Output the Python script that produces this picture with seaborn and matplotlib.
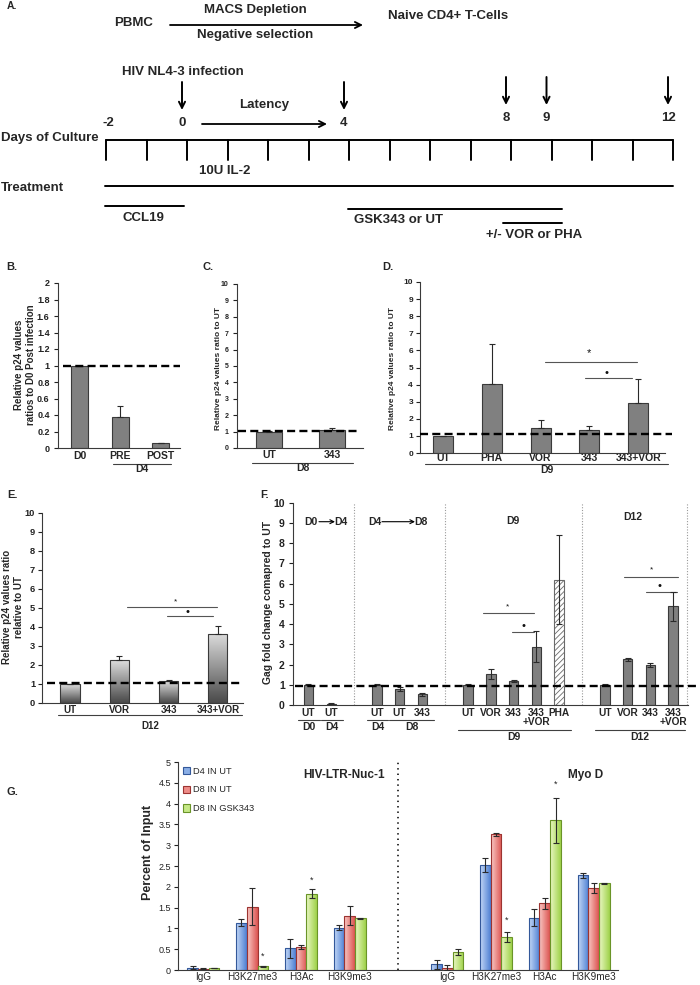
import numpy as np
import pandas as pd
import matplotlib
matplotlib.use("Agg")
import matplotlib.pyplot as plt
import seaborn as sns
from matplotlib import font_manager
from matplotlib.colors import LinearSegmentedColormap
from matplotlib.patches import Patch

# ---------------- data ----------------
timeline_days = list(range(-2, 13))
arrow_days = [0, 4, 8, 9, 12]
ccl19_span = [-2, 0]
gsk_span = [4, 9.25]
vor_span = [7.8, 9.25]

b_cats = ["D0", "PRE", "POST"]
b_vals = [1.0, 0.38, 0.055]
b_errs = [0.0, 0.135, 0.008]

c_cats = ["UT", "343"]
c_vals = [1.0, 1.08]
c_errs = [0.02, 0.12]

d_cats = ["UT", "PHA", "VOR", "343", "343+VOR"]
d_vals = [1.0, 4.05, 1.47, 1.32, 2.93]
d_errs = [0.02, 2.3, 0.45, 0.28, 1.37]

e_cats = ["UT", "VOR", "343", "343+VOR"]
e_vals = [0.97, 2.24, 1.12, 3.64]
e_errs = [0.0, 0.2, 0.1, 0.4]

f_sections = ["D0\u2192D4", "D4\u2192D8", "D9", "D12"]
f_section_of = [0, 0, 1, 1, 1, 2, 2, 2, 2, 2, 3, 3, 3, 3]
f_days = ["D0", "D4", "D4", "D8", "D8", "D9", "D9", "D9", "D9", "D9",
          "D12", "D12", "D12", "D12"]
f_labels = ["UT", "UT", "UT", "UT", "343", "UT", "VOR", "343", "343\n+VOR", "PHA",
            "UT", "VOR", "343", "343\n+VOR"]
f_vals = [1.0, 0.06, 1.0, 0.78, 0.53, 1.0, 1.52, 1.19, 2.89, 6.19, 1.0, 2.25, 1.98, 4.88]
f_errs = [0.02, 0.02, 0.02, 0.09, 0.08, 0.02, 0.24, 0.07, 0.78, 2.2, 0.02, 0.07, 0.08, 0.72]

g_marks = ["IgG", "H3K27me3", "H3Ac", "H3K9me3"]
g_loci = ["HIV-LTR-Nuc-1", "Myo D"]
g_series = ["D4 IN UT", "D8 IN UT", "D8 IN GSK343"]
g_hiv_d4 = [0.06, 1.14, 0.52, 1.02]
g_hiv_d8 = [0.03, 1.52, 0.55, 1.31]
g_hiv_gsk = [0.05, 0.09, 1.83, 1.24]
g_myod_d4 = [0.14, 2.52, 1.26, 2.28]
g_myod_d8 = [0.06, 3.26, 1.60, 1.98]
g_myod_gsk = [0.44, 0.79, 3.60, 2.08]
g_hiv_d4_err = [0.03, 0.09, 0.23, 0.06]
g_hiv_d8_err = [0.01, 0.44, 0.05, 0.24]
g_hiv_gsk_err = [0.01, 0.01, 0.11, 0.01]
g_myod_d4_err = [0.11, 0.17, 0.20, 0.06]
g_myod_d8_err = [0.05, 0.03, 0.13, 0.12]
g_myod_gsk_err = [0.07, 0.12, 0.54, 0.01]

# ---------------- fonts ----------------
sns.set_style("white")
names = {f.name for f in font_manager.fontManager.ttflist}
REG = "Liberation Sans" if "Liberation Sans" in names else "DejaVu Sans"
NAR = "Liberation Sans Narrow" if "Liberation Sans Narrow" in names else REG
plt.rcParams["font.family"] = [REG, "DejaVu Sans"]
plt.rcParams["hatch.linewidth"] = 0.6

W, H = 700, 985
fig = plt.figure(figsize=(7, 9.85), dpi=100)
fig.patch.set_facecolor("white")


def mk(x0, x1, yt, yb):
    ax = fig.add_axes([x0 / W, 1 - yb / H, (x1 - x0) / W, (yb - yt) / H])
    ax.patch.set_alpha(0)
    return ax


def xs_px(ax, x):
    return ax.transData.transform((x, 0))[0]


def ys_px(ax, y):
    return H - ax.transData.transform((0, y))[1]


def style(ax, xlim, ylim, yticks, tsize, pad, family=REG, weight="bold"):
    ax.set_xlim(*xlim)
    ax.set_ylim(*ylim)
    ax.set_yticks(yticks)
    ax.set_yticklabels([f"{v:g}" for v in yticks], fontsize=tsize,
                       fontweight=weight, family=[family, "DejaVu Sans"])
    for s in ["top", "right"]:
        ax.spines[s].set_visible(False)
    for s in ["left", "bottom"]:
        ax.spines[s].set_color("#3a3a3a")
        ax.spines[s].set_linewidth(0.8)
    ax.tick_params(axis="y", length=3, width=0.8, direction="out", pad=pad,
                   colors="#222222", left=True)
    ax.tick_params(axis="x", length=0)
    ax.set_xlabel("")
    ax.set_ylabel("")


def simple_bars(ax, cats, vals, width, order=None):
    df = pd.DataFrame({"cat": cats, "val": vals})
    sns.barplot(data=df, x="cat", y="val", order=order if order else cats,
                color="#808080", saturation=1, edgecolor="#3a3a3a",
                linewidth=0.8, width=width, errorbar=None, ax=ax)


def errs(ax, xs, vals, e, up_only=True, capsize=2.5):
    e = np.asarray(e, dtype=float)
    yerr = [np.zeros_like(e), e] if up_only else e
    ax.errorbar(xs, vals, yerr=yerr, fmt="none", ecolor="#2a2a2a",
                elinewidth=0.8, capsize=capsize, capthick=0.8, zorder=5)


def dashed(ax, x0, x1, y):
    ax.plot([x0, x1], [y, y], color="black", lw=1.7, dashes=(3.4, 1.8),
            clip_on=False, zorder=6)


def grad_fill(ax, patch, c0, c1, vertical=True):
    x0, y0 = patch.get_x(), patch.get_y()
    w, h = patch.get_width(), patch.get_height()
    cmap = LinearSegmentedColormap.from_list("g", [c0, c1])
    arr = np.linspace(0, 1, 64).reshape(-1, 1) if vertical else np.linspace(0, 1, 64).reshape(1, -1)
    im = ax.imshow(arr, cmap=cmap, extent=(x0, x0 + w, y0, y0 + h), origin="lower",
                   aspect="auto", interpolation="bilinear", zorder=1)
    im.set_clip_path(patch)
    patch.set_facecolor("none")
    patch.set_zorder(2)


def sig(ax, x0, x1, y, sym, tx, ty, size):
    ax.plot([x0, x1], [y, y], color="#555555", lw=0.8, zorder=4)
    ax.text(tx, ty, sym, ha="center", va="center", fontsize=size, color="#111111")


brackets = []  # (ax, x0, x1, line_px, label, label_px, size, family)
ylabels = []   # (text, x_px, y_px, size, family)

# ---------------- Panel B ----------------
axB = mk(58, 180, 283, 448)
simple_bars(axB, b_cats, b_vals, 0.42)
errs(axB, range(3), b_vals, b_errs)
style(axB, (-0.53, 2.48), (0, 2), np.round(np.arange(0, 2.01, 0.2), 1), 6.5, 3)
axB.set_xticks(range(3))
axB.set_xticklabels(b_cats, fontsize=7.5, fontweight="bold")
axB.tick_params(axis="x", pad=2)
dashed(axB, -0.41, 2.48, 1.0)
brackets.append((axB, 0.83, 2.26, 16, "D4", 21.5, 7.5, REG))
ylabels.append(("Relative p24 values\nratios to D0 Post infection", 25, 365, 7, REG))

# ---------------- Panel C ----------------
axC = mk(237, 363, 284, 448)
simple_bars(axC, c_cats, c_vals, 0.41)
errs(axC, range(2), c_vals, c_errs)
style(axC, (-0.51, 1.49), (0, 10), list(range(0, 11)), 5, 3)
axC.set_xticks(range(2))
axC.set_xticklabels(c_cats, fontsize=7.5, fontweight="bold")
axC.tick_params(axis="x", pad=1.5)
dashed(axC, -0.5, 1.45, 1.05)
brackets.append((axC, -0.27, 1.33, 15, "D8", 20, 7.5, REG))
ylabels.append(("Relative p24 values ratio to UT", 218, 368, 6, REG))

# ---------------- Panel D ----------------
axD = mk(420, 665, 282, 453)
simple_bars(axD, d_cats, d_vals, 0.41)
errs(axD, range(5), d_vals, d_errs)
style(axD, (-0.47, 4.55), (0, 10), list(range(0, 11)), 6, 2)
axD.set_xticks(range(5))
axD.set_xticklabels(d_cats, fontsize=7.5, fontweight="bold")
axD.tick_params(axis="x", pad=0)
dashed(axD, -0.47, 4.7, 1.1)
sig(axD, 2.09, 3.98, 5.3, "*", 3.0, 5.85, 8)
sig(axD, 2.91, 3.88, 4.4, "\u2022", 3.36, 4.7, 8)
brackets.append((axD, -0.37, 4.62, 11, "D9", 17, 7.5, REG))
ylabels.append(("Relative p24 values ratio to UT", 392, 368, 6, REG))

# ---------------- Panel E ----------------
axE = mk(42, 243, 512.7, 702.7)
simple_bars(axE, e_cats, e_vals, 0.39)
for p in list(axE.patches):
    grad_fill(axE, p, "#4a4a4a", "#dcdcdc", vertical=True)
errs(axE, range(4), e_vals, e_errs)
style(axE, (-0.57, 3.51), (0, 10), list(range(0, 11)), 6.7, 2)
axE.set_xticks(range(4))
axE.set_xticklabels(e_cats, fontsize=7, fontweight="bold")
axE.tick_params(axis="x", pad=2)
dashed(axE, -0.47, 3.5, 1.05)
sig(axE, 1.16, 2.98, 5.05, "*", 2.13, 5.3, 6)
sig(axE, 1.97, 2.9, 4.56, "\u2022", 2.39, 4.75, 8)
brackets.append((axE, -0.24, 3.49, 12.5, "D12", 23, 7, REG))
ylabels.append(("Relative p24 values ratio\nrelative to UT", 13, 607, 7, REG))

# ---------------- Panel F ----------------
axF = mk(293, 688, 502.7, 705)
f_keys = [f"k{i}" for i in range(len(f_vals))]
f_order = []
for s in range(len(f_sections)):
    if s > 0:
        f_order.append(f"gap{s}")
    f_order += [k for k, sec in zip(f_keys, f_section_of) if sec == s]
f_pos = [f_order.index(k) for k in f_keys]
simple_bars(axF, f_keys, f_vals, 0.42, order=f_order)
pha_pos = f_pos[f_labels.index("PHA")]
for p in axF.patches:
    cx = p.get_x() + p.get_width() / 2
    if abs(cx - pha_pos) < 0.3:
        p.set_facecolor("white")
        p.set_hatch("//////")
        p.set_edgecolor("#6a6a6a")
errs(axF, f_pos, f_vals, f_errs, up_only=False, capsize=2.5)
style(axF, (-0.68, 16.65), (0, 10), list(range(0, 11)), 7.5, 3, family=NAR)
axF.set_xticks(f_pos)
axF.set_xticklabels(f_labels, fontsize=7.3, fontweight="bold",
                    family=[NAR, "DejaVu Sans"], linespacing=0.95)
axF.tick_params(axis="x", pad=2)
dashed(axF, -0.6, 17.6, 0.95)
gap_pos = [f_order.index(f"gap{s}") for s in range(1, len(f_sections))]
for gx in gap_pos + [len(f_order) - 0.4]:
    axF.plot([gx, gx], [0, 10], color="#9a9a9a", lw=0.8, ls=(0, (1, 1.5)), zorder=0,
             clip_on=False)
sig(axF, 7.64, 9.89, 4.54, "*", 8.74, 4.87, 6)
sig(axF, 8.92, 9.88, 3.63, "\u2022", 9.42, 3.9, 8)
sig(axF, 13.84, 16.19, 6.35, "*", 15.04, 6.7, 6)
sig(axF, 14.79, 16.18, 5.57, "\u2022", 15.41, 5.88, 8)
day_groups = []
for i, (d, s) in enumerate(zip(f_days, f_section_of)):
    if day_groups and day_groups[-1][0] == d and day_groups[-1][1] == s:
        day_groups[-1][3] = f_pos[i]
    else:
        day_groups.append([d, s, f_pos[i], f_pos[i]])
for d, s, a, b in day_groups:
    two_line = s >= 2
    brackets.append((axF, a - 0.45, b + 0.5, 24.5 if two_line else 15, d,
                     32 if two_line else 22.5, 7.5, NAR))
ylabels.append(("Gag fold change comapred to UT", 268, 602, 7.5, NAR))

# ---------------- Panel G ----------------
axG = mk(178, 618, 762, 970)
g_vals_by = {("HIV", 0): g_hiv_d4, ("HIV", 1): g_hiv_d8, ("HIV", 2): g_hiv_gsk,
             ("MYO", 0): g_myod_d4, ("MYO", 1): g_myod_d8, ("MYO", 2): g_myod_gsk}
g_err_by = {("HIV", 0): g_hiv_d4_err, ("HIV", 1): g_hiv_d8_err, ("HIV", 2): g_hiv_gsk_err,
            ("MYO", 0): g_myod_d4_err, ("MYO", 1): g_myod_d8_err, ("MYO", 2): g_myod_gsk_err}
rows = []
for loc in ["HIV", "MYO"]:
    for si, ser in enumerate(g_series):
        for mi, m in enumerate(g_marks):
            rows.append({"key": f"{loc}|{m}", "series": ser,
                         "val": g_vals_by[(loc, si)][mi], "err": g_err_by[(loc, si)][mi]})
gdf = pd.DataFrame(rows)
g_order = [f"HIV|{m}" for m in g_marks] + ["gap"] + [f"MYO|{m}" for m in g_marks]
g_light = ["#c4d8f6", "#f9c9c6", "#eaf8c4"]
g_dark = ["#4d7fd3", "#dc5450", "#9fd24a"]
g_edge = ["#33589a", "#9c3431", "#6a9428"]
g_mid = ["#8aaee6", "#ee8c88", "#c6e887"]
sns.barplot(data=gdf, x="key", y="val", hue="series", order=g_order, hue_order=g_series,
            palette=g_mid, saturation=1, width=0.66, errorbar=None, legend=False,
            edgecolor="#333333", linewidth=0.8, ax=axG)
hue_w = 0.22
for p in list(axG.patches):
    if p.get_height() <= 0:
        continue
    cx = p.get_x() + p.get_width() / 2
    slot = round(cx)
    si = int(round((cx - slot) / hue_w)) + 1
    p.set_edgecolor(g_edge[si])
    grad_fill(axG, p, g_light[si], g_dark[si], vertical=False)
for si in range(3):
    sub = gdf[gdf["series"] == g_series[si]]
    xs = [g_order.index(k) + (si - 1) * hue_w for k in sub["key"]]
    errs(axG, xs, sub["val"].values, sub["err"].values, up_only=False, capsize=2.2)
style(axG, (-0.52, 8.5), (0, 5), list(np.arange(0, 5.01, 0.5)), 6.5, 2, weight="normal")
axG.set_xticks([g_order.index(k) for k in g_order if k != "gap"])
axG.set_xticklabels(g_marks + g_marks, fontsize=7.2, family=[NAR, "DejaVu Sans"])
axG.tick_params(axis="x", pad=1.5)
sep = g_order.index("gap")
axG.plot([sep, sep], [0, 5], color="#222222", lw=1.3, ls=(0, (0.8, 2.2)), zorder=0)
for loc_key, m, y in [("HIV", "H3K27me3", 0.32), ("HIV", "H3Ac", 2.16),
                      ("MYO", "H3K27me3", 1.2), ("MYO", "H3Ac", 4.47)]:
    axG.text(g_order.index(f"{loc_key}|{m}") + hue_w, y, "*", ha="center", va="center",
             fontsize=6.5, color="#222222")
axG.text(2.88, 4.69, g_loci[0], ha="center", va="center", fontsize=8.5,
         fontweight="bold", family=[NAR, "DejaVu Sans"])
axG.text(7.84, 4.69, g_loci[1], ha="center", va="center", fontsize=8.5,
         fontweight="bold", family=[NAR, "DejaVu Sans"])
handles = [Patch(facecolor=g_mid[i], edgecolor=g_edge[i], linewidth=0.8, label=g_series[i])
           for i in range(3)]
axG.legend(handles=handles, loc="upper left", bbox_to_anchor=(0.0, 1.0), frameon=False,
           fontsize=6.7, handlelength=0.8, handleheight=0.8, handletextpad=0.3,
           labelspacing=1.05, borderpad=0.3, borderaxespad=0.2)
ylabels.append(("Percent of Input", 148, 852, 9, NAR))

# ---------------- overlay (panel A, labels) ----------------
ov = fig.add_axes([0, 0, 1, 1])
ov.set_xlim(0, W)
ov.set_ylim(H, 0)
ov.axis("off")


def T(x, y, s, size=9.5, ha="center", va="center", weight="bold", family=REG, rot=0):
    ov.text(x, y, s, ha=ha, va=va, fontsize=size, fontweight=weight,
            family=[family, "DejaVu Sans"], rotation=rot, multialignment="center")


def arrow(x0, y0, x1, y1, lw=1.3, ms=11):
    ov.annotate("", xy=(x1, y1), xytext=(x0, y0),
                arrowprops=dict(arrowstyle="->", lw=lw, color="black",
                                shrinkA=0, shrinkB=0, mutation_scale=ms))


def X(d):
    return 106 + (d + 2) * 40.5


T(12, 6, "A.", 7.5)
T(134, 23, "PBMC")
T(255, 10, "MACS Depletion")
arrow(170, 25, 363, 25)
T(255, 35, "Negative selection")
T(448, 16, "Naive CD4+ T-Cells")
T(183, 72, "HIV NL4-3 infection")
for d in arrow_days:
    top = 82 if d <= 4 else 77
    arrow(X(d) - 5, top, X(d) - 5, top + 28, lw=1.4)
    T(X(d) - 5, 123 if d <= 4 else 118, str(d))
T(X(-2) + 2, 123, "-2")
T(264, 105, "Latency")
arrow(202, 124, 327, 124)
T(1, 138, "Days of Culture", ha="left")
ov.plot([X(timeline_days[0]), X(timeline_days[-1])], [140, 140], color="black", lw=1.4)
for d in timeline_days:
    ov.plot([X(d), X(d)], [140, 160], color="black", lw=1.4)
T(225, 171, "10U IL-2")
T(1, 188, "Treatment", ha="left")
ov.plot([X(-2) - 1, X(12)], [186, 186], color="black", lw=1.4)
ov.plot([X(ccl19_span[0]) - 1, X(ccl19_span[1]) - 3], [206, 206], color="black", lw=1.4)
T(143, 218, "CCL19")
ov.plot([X(gsk_span[0]) - 1, X(gsk_span[1])], [209, 209], color="black", lw=1.4)
T(399, 220, "GSK343 or UT")
ov.plot([X(vor_span[0]), X(vor_span[1])], [223, 223], color="black", lw=1.4)
T(534, 235, "+/- VOR or PHA")

for lab, x, y in [("B.", 12, 267), ("C.", 208, 267), ("D.", 388, 267),
                  ("E.", 12, 495), ("F.", 265, 495), ("G.", 12, 792)]:
    T(x, y, lab, 8)

# F section headers
T(311, 521.7, "D0", 7.5, family=NAR)
arrow(319, 521.7, 335, 521.7, lw=0.8, ms=7)
T(341, 521.7, "D4", 7.5, family=NAR)
T(375, 521.7, "D4", 7.5, family=NAR)
arrow(382, 521.7, 415, 521.7, lw=0.8, ms=7)
T(421, 521.7, "D8", 7.5, family=NAR)
T(513, 520.7, "D9", 7.5, family=NAR)
T(633, 517, "D12", 7.5, family=NAR)

for ax, x0, x1, lp, lab, tp, size, fam in brackets:
    xa, xb = xs_px(ax, x0), xs_px(ax, x1)
    yb = ys_px(ax, 0)
    ov.plot([xa, xb], [yb + lp, yb + lp], color="#404040", lw=0.8)
    T((xa + xb) / 2, yb + tp, lab, size, family=fam)

for txt, x, y, size, fam in ylabels:
    T(x, y, txt, size, family=fam, rot=90)

fig.savefig("out.png", dpi=100, facecolor="white")
